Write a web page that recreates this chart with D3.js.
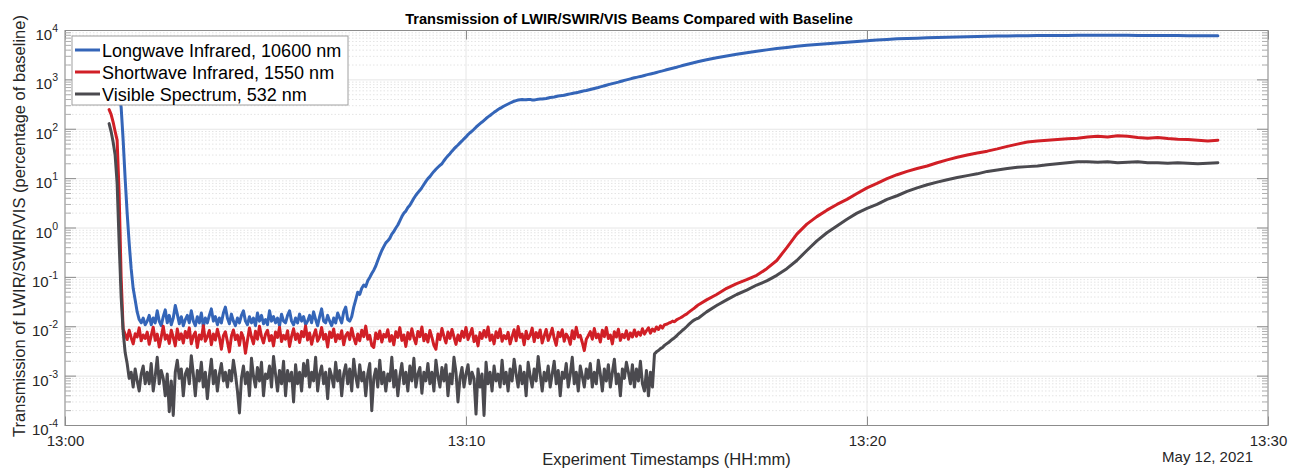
<!DOCTYPE html>
<html><head><meta charset="utf-8">
<script src="https://cdn.jsdelivr.net/npm/d3@7"></script>
<style>
body{margin:0;background:#fff;}
svg{display:block;font-family:"Liberation Sans",Arial,Helvetica,sans-serif;}
</style></head><body>
<svg id="chart" width="1299" height="470"></svg>
<script>
// ---------------- DATA ----------------
const chartTitle = "Transmission of LWIR/SWIR/VIS Beams Compared with Baseline";
const xLabel = "Experiment Timestamps (HH:mm)";
const yLabel = "Transmission of LWIR/SWIR/VIS (percentage of baseline)";
const dateLabel = "May 12, 2021";
const seriesNames = ["Longwave Infrared, 10600 nm", "Shortwave Infrared, 1550 nm", "Visible Spectrum, 532 nm"];
const xTickLabels = ["13:00", "13:10", "13:20", "13:30"];
const yTickExponents = [-4, -3, -2, -1, 0, 1, 2, 3, 4];

// minutes after 13:00 on May 12, 2021
const minutes = [
 1.1,1.15,1.2,1.25,1.3,1.35,1.4,1.45,1.5,1.55,1.6,1.65,1.7,1.75,1.8,1.85,1.9,1.95,2.0,
 2.05,2.1,2.15,2.2,2.25,2.3,2.35,2.4,2.45,2.5,2.55,2.6,2.65,2.7,2.75,2.8,2.85,2.9,2.95,3.0,
 3.05,3.1,3.15,3.2,3.25,3.3,3.35,3.4,3.45,3.5,3.55,3.6,3.65,3.7,3.75,3.8,3.85,3.9,3.95,4.0,
 4.05,4.1,4.15,4.2,4.25,4.3,4.35,4.4,4.45,4.5,4.55,4.6,4.65,4.7,4.75,4.8,4.85,4.9,4.95,5.0,
 5.05,5.1,5.15,5.2,5.25,5.3,5.35,5.4,5.45,5.5,5.55,5.6,5.65,5.7,5.75,5.8,5.85,5.9,5.95,6.0,
 6.05,6.1,6.15,6.2,6.25,6.3,6.35,6.4,6.45,6.5,6.55,6.6,6.65,6.7,6.75,6.8,6.85,6.9,6.95,7.0,
 7.05,7.1,7.15,7.2,7.25,7.3,7.35,7.4,7.45,7.5,7.55,7.6,7.65,7.7,7.75,7.8,7.85,7.9,7.95,8.0,
 8.05,8.1,8.15,8.2,8.25,8.3,8.35,8.4,8.45,8.5,8.55,8.6,8.65,8.7,8.75,8.8,8.85,8.9,8.95,9.0,
 9.05,9.1,9.15,9.2,9.25,9.3,9.35,9.4,9.45,9.5,9.55,9.6,9.65,9.7,9.75,9.8,9.85,9.9,9.95,10.0,
 10.05,10.1,10.15,10.2,10.25,10.3,10.35,10.4,10.45,10.5,10.55,10.6,10.65,10.7,10.75,10.8,10.85,10.9,10.95,11.0,
 11.05,11.1,11.15,11.2,11.25,11.3,11.35,11.4,11.45,11.5,11.55,11.6,11.65,11.7,11.75,11.8,11.85,11.9,11.95,12.0,
 12.05,12.1,12.15,12.2,12.25,12.3,12.35,12.4,12.45,12.5,12.55,12.6,12.65,12.7,12.75,12.8,12.85,12.9,12.95,13.0,
 13.05,13.1,13.15,13.2,13.25,13.3,13.35,13.4,13.45,13.5,13.55,13.6,13.65,13.7,13.75,13.8,13.85,13.9,13.95,14.0,
 14.05,14.1,14.15,14.2,14.25,14.3,14.35,14.4,14.45,14.5,14.55,14.6,14.65,14.7,14.75,14.8,14.85,14.9,14.95,15.0,
 15.05,15.1,15.15,15.2,15.25,15.3,15.35,15.4,15.45,15.5,15.55,15.6,15.65,15.7,15.75,15.8,
 16.0,16.25,16.5,16.75,17.0,17.25,17.5,17.75,18.0,18.25,
 18.5,18.75,19.0,19.25,19.5,19.75,20.0,20.25,20.5,20.75,
 21.0,21.25,21.5,21.75,22.0,22.25,22.5,22.75,23.0,23.25,
 23.5,23.75,24.0,24.25,24.5,24.75,25.0,25.25,25.5,25.75,
 26.0,26.25,26.5,26.75,27.0,27.25,27.5,27.75,28.0,28.25,
 28.5,28.75
];

const lwir = [
 3000,2500,1800,1200,800,500,280,60,10,2,0.5,0.15,0.06,0.035,0.02,0.014,0.012,0.015,0.011,
 0.013,0.017,0.011,0.015,0.012,0.021,0.013,0.0105,0.016,0.022,0.012,0.017,0.011,0.015,0.027,0.018,0.0115,0.016,0.0105,0.014,
 0.017,0.012,0.021,0.013,0.0105,0.016,0.012,0.019,0.010,0.015,0.012,0.017,0.023,0.013,0.016,0.011,0.015,0.012,0.019,0.025,
 0.015,0.0115,0.018,0.013,0.0105,0.015,0.012,0.017,0.021,0.013,0.011,0.016,0.012,0.015,0.0105,0.019,0.013,0.017,0.0115,0.014,
 0.011,0.021,0.013,0.016,0.012,0.015,0.0105,0.018,0.013,0.012,0.017,0.021,0.013,0.011,0.015,0.012,0.018,0.013,0.016,0.011,
 0.013,0.017,0.012,0.020,0.014,0.0105,0.016,0.023,0.013,0.012,0.017,0.013,0.0105,0.015,0.012,0.019,0.015,0.012,0.020,0.025,
 0.014,0.013,0.016,0.025,0.035,0.05,0.045,0.06,0.07,0.065,0.085,0.1,0.12,0.14,0.17,0.22,0.28,0.35,0.42,0.5,
 0.55,0.62,0.75,0.85,1.0,1.15,1.4,1.7,2.0,2.2,2.6,2.9,3.4,4.0,4.6,5.2,5.8,6.6,7.6,8.8,
 10,11,12.5,14,15.5,17,18.5,20,23,26,29,32,36,40,44,48,53,58,64,70,
 78,85,92,100,110,120,130,140,152,165,178,190,205,220,235,250,265,280,295,310,
 325,340,355,370,380,390,395,400,398,395,400,402,392,390,398,405,408,410,415,420,
 430,440,445,450,460,470,475,480,490,500,510,520,530,540,550,560,575,590,600,610,
 625,640,655,670,685,700,720,740,760,780,800,820,840,860,880,900,925,950,975,1000,
 1025,1050,1075,1100,1125,1150,1175,1200,1230,1260,1290,1320,1350,1380,1415,1450,1485,1520,1560,1600,
 1640,1680,1720,1760,1800,1850,1900,1950,2000,2050,2100,2150,2200,2250,2300,2350,
 2550,2800,3050,3300,3550,3800,4050,4300,4550,4800,
 5000,5200,5400,5600,5800,6000,6200,6400,6600,6800,
 6900,7000,7100,7200,7300,7400,7500,7600,7650,7700,
 7750,7800,7850,7900,7900,7950,7950,8000,8000,8000,
 8000,8000,8000,7950,7950,7950,7900,7900,7850,7850,
 7800,7800
];

const swir = [
 250,200,140,90,60,5,0.1,0.009,0.007,0.0055,0.0085,0.006,0.0045,0.0072,0.0062,0.0095,0.0052,0.0068,0.0058,
 0.0078,0.0044,0.0066,0.0098,0.0053,0.0071,0.0039,0.0062,0.0102,0.0056,0.0068,0.0046,0.0085,0.0061,0.0041,0.009,0.0055,0.0072,0.0047,0.008,
 0.006,0.0095,0.0045,0.0065,0.0078,0.0038,0.0068,0.0056,0.0105,0.0051,0.0063,0.0084,0.0043,0.0071,0.0054,0.0089,0.0061,0.0035,0.0066,0.0079,
 0.005,0.0031,0.0064,0.0086,0.0055,0.0068,0.0042,0.0076,0.006,0.0029,0.0053,0.0094,0.0062,0.0045,0.0081,0.0056,0.0102,0.0063,0.0047,0.0071,
 0.0085,0.0052,0.0066,0.0041,0.0078,0.0061,0.0098,0.005,0.0067,0.0056,0.0083,0.004,0.0064,0.0091,0.0055,0.0072,0.0048,0.008,0.0063,0.0104,
 0.0054,0.0075,0.0044,0.0066,0.0087,0.0051,0.0062,0.0097,0.0056,0.007,0.0039,0.0078,0.0061,0.009,0.005,0.0069,0.0057,0.0083,0.0043,0.0066,
 0.0076,0.0055,0.0093,0.0061,0.0045,0.0071,0.0052,0.0085,0.0063,0.0103,0.0056,0.0067,0.0042,0.0038,0.0075,0.0057,0.0082,0.0049,0.007,0.0062,
 0.0087,0.0051,0.0066,0.0043,0.0079,0.0061,0.0096,0.0053,0.0068,0.004,0.0076,0.0056,0.0091,0.006,0.0045,0.008,0.0063,0.0099,0.0052,0.007,
 0.0049,0.0084,0.0061,0.0042,0.0035,0.0071,0.0055,0.0092,0.0064,0.0047,0.0078,0.0058,0.0088,0.0062,0.0044,0.0068,0.0052,0.0081,0.0061,0.0097,
 0.0055,0.007,0.0092,0.005,0.0065,0.0041,0.0076,0.0058,0.0084,0.0062,0.0099,0.0053,0.0068,0.0045,0.0079,0.006,0.009,0.0051,0.0066,0.0057,
 0.0077,0.0045,0.0063,0.0087,0.0052,0.0101,0.0061,0.0071,0.0043,0.0081,0.0057,0.0067,0.0094,0.005,0.0076,0.006,0.0086,0.0047,0.0065,0.0088,
 0.0053,0.0068,0.0093,0.0058,0.0042,0.0077,0.0063,0.0087,0.0051,0.0071,0.0061,0.0044,0.0083,0.0057,0.0098,0.0062,0.0067,0.0048,0.0033,0.0056,
 0.0066,0.008,0.0056,0.0092,0.006,0.0071,0.0049,0.0085,0.0063,0.0097,0.0058,0.0068,0.0045,0.0079,0.0062,0.0089,0.0053,0.007,0.006,0.0083,
 0.0056,0.0075,0.0062,0.0086,0.0064,0.0078,0.0067,0.0091,0.0071,0.0083,0.0095,0.0074,0.009,0.0081,0.0099,0.0088,0.0105,0.0094,0.011,0.0112,
 0.0118,0.0122,0.013,0.0126,0.0138,0.0145,0.0152,0.016,0.0172,0.018,0.0195,0.021,0.0225,0.024,0.026,0.028,
 0.035,0.045,0.06,0.075,0.09,0.11,0.15,0.22,0.4,0.75,
 1.2,1.7,2.3,3.0,3.8,5,6.5,8,10,12,
 14,16,18,21,24,27,30,33,36,40,
 45,50,55,58,60,62,64,66,70,72,
 70,74,72,68,66,68,65,63,62,60,
 58,60
];

const vis = [
 130,90,55,30,8,0.5,0.04,0.008,0.003,0.0018,0.0009,0.0012,0.0006,0.0014,0.0008,0.0005,0.0011,0.0016,0.0007,
 0.0012,0.0007,0.0018,0.0005,0.001,0.0024,0.0007,0.0013,0.0009,0.0004,0.0011,0.00019,0.0008,0.00016,0.0012,0.0021,0.0009,0.0014,0.0004,0.0011,
 0.0014,0.0007,0.0026,0.0011,0.0004,0.0013,0.0008,0.0019,0.0006,0.0012,0.00035,0.001,0.0022,0.0007,0.0013,0.0005,0.0011,0.0018,0.0008,0.0012,
 0.0006,0.0013,0.0008,0.0021,0.0011,0.0005,0.00018,0.0009,0.0016,0.0007,0.0012,0.0004,0.0023,0.001,0.0006,0.0015,0.0008,0.0019,0.0004,0.0011,
 0.0009,0.0016,0.0006,0.0025,0.0011,0.0005,0.0013,0.0007,0.002,0.0004,0.0013,0.0008,0.0012,0.0003,0.0017,0.0007,0.0012,0.0005,0.0018,0.001,
 0.0021,0.0006,0.0012,0.0008,0.0024,0.0005,0.0011,0.0016,0.0007,0.0012,0.00035,0.0014,0.001,0.0006,0.0019,0.0008,0.0013,0.0004,0.0011,0.0017,
 0.0007,0.0014,0.0005,0.0022,0.001,0.0006,0.0017,0.0008,0.0012,0.0004,0.0011,0.0018,0.0002,0.0009,0.0014,0.0006,0.0021,0.0007,0.0012,0.0005,
 0.0011,0.0008,0.0024,0.0006,0.0013,0.0004,0.001,0.0018,0.0007,0.0012,0.0005,0.0016,0.0008,0.0023,0.0006,0.0011,0.0015,0.00045,0.0012,0.0008,
 0.0018,0.0007,0.0012,0.0005,0.0021,0.001,0.0006,0.0015,0.0008,0.0017,0.0004,0.0011,0.0007,0.0024,0.0012,0.0003,0.0009,0.0015,0.0006,0.0011,
 0.0017,0.0007,0.0012,0.0009,0.00017,0.0014,0.0006,0.0011,0.00016,0.0019,0.0007,0.0012,0.0005,0.0016,0.0008,0.0011,0.0006,0.0021,0.0007,0.0012,
 0.0005,0.0014,0.0008,0.0022,0.0011,0.0006,0.0016,0.0007,0.0012,0.0004,0.0019,0.001,0.0006,0.0014,0.0008,0.0025,0.0011,0.0005,0.0012,0.0008,
 0.0016,0.0006,0.0011,0.002,0.0007,0.0013,0.0004,0.0012,0.0009,0.0018,0.0006,0.0011,0.0024,0.0007,0.0012,0.0005,0.0016,0.001,0.0006,0.0014,
 0.0009,0.0018,0.0006,0.0012,0.0007,0.0021,0.0011,0.0005,0.0014,0.0008,0.0017,0.0006,0.0012,0.0022,0.0007,0.0011,0.0004,0.0014,0.0009,0.0019,
 0.0012,0.0007,0.0017,0.0006,0.0014,0.0008,0.002,0.0007,0.0005,0.0013,0.0004,0.0012,0.0006,0.0028,0.0031,0.0033,0.0036,0.0038,0.0042,0.0045,
 0.0048,0.0052,0.0056,0.006,0.0065,0.0072,0.0078,0.0085,0.0092,0.01,0.011,0.012,0.013,0.0138,0.0145,0.015,
 0.02,0.027,0.035,0.045,0.055,0.07,0.085,0.11,0.15,0.22,
 0.35,0.55,0.8,1.1,1.5,2.0,2.5,3.0,3.8,4.5,
 5.5,6.5,7.5,8.5,9.5,10.5,11.5,12.5,14,15,
 16,17,17.5,18,19,20,21,22,22,21.5,
 22,21,21.5,22,21,21,20.5,21,20.5,20,
 20.5,21
];

const seriesColors = ["#3465b8", "#d11f26", "#4b4a4f"];

// ---------------- CHART ----------------
const svg = d3.select("#chart");
const W = 1299, H = 470;
const m = {left: 65, right: 31, top: 30.5, bottom: 44.5};
const x0 = m.left, x1 = W - m.right, y0 = m.top, y1 = H - m.bottom;

const base = new Date(2021, 4, 12, 13, 0, 0);
const toDate = mm => new Date(base.getTime() + mm * 60000);
const x = d3.scaleTime().domain([toDate(0), toDate(30)]).range([x0, x1]);
const y = d3.scaleLog().domain([1e-4, 1e4]).range([y1, y0]);

svg.append("rect").attr("width", W).attr("height", H).attr("fill", "#fff");

// grid
const grid = svg.append("g");
const minorVals = [];
for (let e = -4; e < 4; e++) for (let k = 2; k <= 9; k++) minorVals.push(k * Math.pow(10, e));
grid.selectAll("line.minor").data(minorVals).join("line")
  .attr("x1", x0).attr("x2", x1).attr("y1", d => y(d)).attr("y2", d => y(d))
  .attr("stroke", "#e4e4e4").attr("stroke-width", 1).attr("stroke-dasharray", "1.5,2");
const majorVals = yTickExponents.map(e => Math.pow(10, e));
grid.selectAll("line.major").data(majorVals).join("line")
  .attr("x1", x0).attr("x2", x1).attr("y1", d => y(d)).attr("y2", d => y(d))
  .attr("stroke", "#e6e6e6").attr("stroke-width", 1);
const xTickDates = xTickLabels.map((s, i) => toDate(i * 10));
grid.selectAll("line.vx").data(xTickDates).join("line")
  .attr("x1", d => x(d)).attr("x2", d => x(d)).attr("y1", y0).attr("y2", y1)
  .attr("stroke", "#e6e6e6").attr("stroke-width", 1);

// lines
svg.append("clipPath").attr("id", "clip").append("rect")
  .attr("x", x0).attr("y", y0).attr("width", x1 - x0).attr("height", y1 - y0);
const series = [lwir, swir, vis].map((vals, i) => ({
  name: seriesNames[i], color: seriesColors[i],
  pts: minutes.map((mm, j) => ({date: toDate(mm), v: vals[j]}))
}));
const line = d3.line().x(d => x(d.date)).y(d => y(d.v));
svg.append("g").attr("clip-path", "url(#clip)").selectAll("path").data(series).join("path")
  .attr("d", d => line(d.pts)).attr("fill", "none").attr("stroke", d => d.color)
  .attr("stroke-width", 3).attr("stroke-linejoin", "round").attr("stroke-linecap", "round");

// axes box
const axisColor = "#8c8c8c";
svg.append("rect").attr("x", x0).attr("y", y0).attr("width", x1 - x0).attr("height", y1 - y0)
  .attr("fill", "none").attr("stroke", axisColor).attr("stroke-width", 1);

// x axis (ticks inward)
const xAxis = d3.axisBottom(x).tickValues(xTickDates).tickSize(-9).tickPadding(17)
  .tickFormat((d, i) => xTickLabels[i]);
const gx = svg.append("g").attr("transform", `translate(0,${y1})`).call(xAxis);
gx.select(".domain").remove();
gx.selectAll(".tick line").attr("stroke", axisColor);
gx.selectAll(".tick text").attr("font-size", 15).attr("fill", "#262626")
  .attr("font-family", '"Liberation Sans",Arial,sans-serif').attr("dy", "0.2em");
const gxt = svg.append("g").attr("transform", `translate(0,${y0})`)
  .call(d3.axisTop(x).tickValues(xTickDates).tickSize(-9).tickFormat(""));
gxt.select(".domain").remove();
gxt.selectAll(".tick line").attr("stroke", axisColor);

// y axis ticks (inward, both sides)
[[x0, 1], [x1, -1]].forEach(([xx, dir]) => {
  svg.append("g").selectAll("line").data(majorVals).join("line")
    .attr("x1", xx).attr("x2", xx + dir * 11).attr("y1", d => y(d)).attr("y2", d => y(d))
    .attr("stroke", axisColor);
  svg.append("g").selectAll("line").data(minorVals).join("line")
    .attr("x1", xx).attr("x2", xx + dir * 6).attr("y1", d => y(d)).attr("y2", d => y(d))
    .attr("stroke", "#b0b0b0");
});
const ylab = svg.append("g").selectAll("text").data(yTickExponents).join("text")
  .attr("x", 58).attr("y", d => y(Math.pow(10, d)) + 9.5)
  .attr("text-anchor", "end").attr("fill", "#262626");
ylab.append("tspan").attr("font-size", 15).text("10");
ylab.append("tspan").attr("font-size", 10.5).attr("dy", -8).text(d => String(d));

// labels
svg.append("text").attr("x", 629).attr("y", 24).attr("text-anchor", "middle")
  .attr("font-size", 14.6).attr("font-weight", "bold").attr("fill", "#000").text(chartTitle);
svg.append("text").attr("x", (x0 + x1) / 2).attr("y", 465).attr("text-anchor", "middle")
  .attr("font-size", 16.5).attr("fill", "#262626").text(xLabel);
svg.append("text").attr("x", 1253).attr("y", 462).attr("text-anchor", "end")
  .attr("font-size", 15).attr("fill", "#262626").text(dateLabel);
svg.append("text").attr("transform", `translate(25,226) rotate(-90)`)
  .attr("text-anchor", "middle").attr("font-size", 16.5).attr("fill", "#262626").text(yLabel);

// legend
const lg = svg.append("g");
lg.append("rect").attr("x", 72).attr("y", 36).attr("width", 276).attr("height", 69)
  .attr("fill", "#fff").attr("stroke", "#a0a0a0").attr("stroke-width", 1);
const rows = lg.selectAll("g.row").data(series).join("g")
  .attr("transform", (d, i) => `translate(0,${50 + i * 22})`);
rows.append("line").attr("x1", 75).attr("x2", 100).attr("y1", 0).attr("y2", 0)
  .attr("stroke", d => d.color).attr("stroke-width", 3);
rows.append("text").attr("x", 102).attr("y", 6.5).attr("font-size", 18).attr("fill", "#000")
  .text(d => d.name);
</script>
</body></html>
